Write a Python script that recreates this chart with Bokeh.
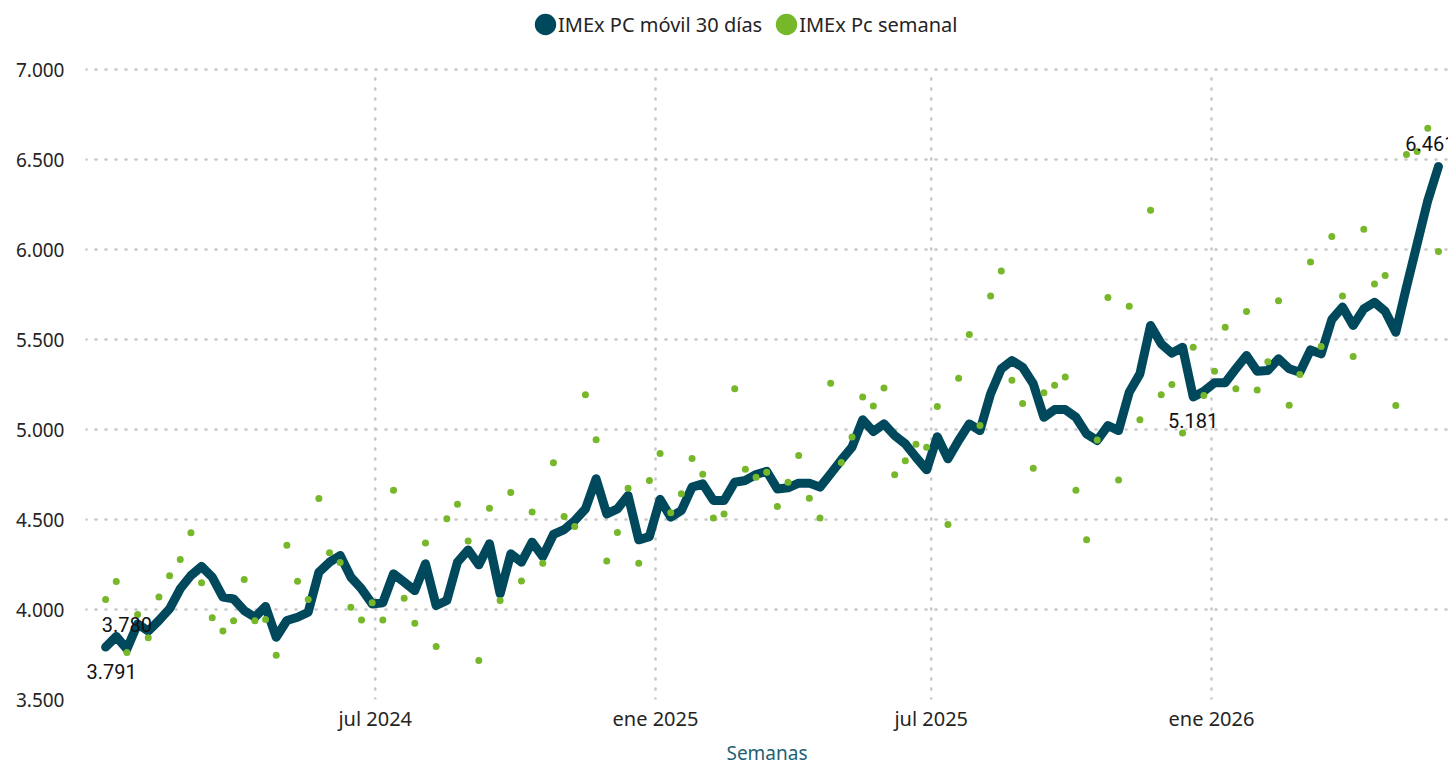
import pandas as pd
from bokeh.plotting import figure
from bokeh.models import ColumnDataSource, Range1d, FixedTicker, Legend, LegendItem
from bokeh.core.properties import value
from bokeh.embed import file_html
from bokeh.resources import INLINE

# ---------------- data ----------------
first_week = "2024-01-06"
n_weeks = 126

movil_30 = [
    3791, 3850, 3780, 3920, 3880, 3939, 4004, 4115, 4189, 4239,
    4180, 4069, 4059, 3994, 3957, 4017, 3846, 3939, 3957, 3985,
    4207, 4263, 4300, 4180, 4115, 4031, 4038, 4198, 4152, 4105,
    4254, 4022, 4050, 4263, 4331, 4248, 4365, 4087, 4309, 4263,
    4374, 4294, 4417, 4444, 4494, 4559, 4726, 4531, 4559, 4633,
    4387, 4405, 4612, 4513, 4550, 4680, 4698, 4606, 4606, 4707,
    4717, 4750, 4768, 4670, 4676, 4702, 4702, 4680, 4754, 4831,
    4902, 5054, 4989, 5031, 4967, 4920, 4846, 4776, 4960, 4837,
    4939, 5031, 4994, 5198, 5337, 5383, 5346, 5254, 5068, 5111,
    5111, 5068, 4976, 4939, 5022, 4994, 5207, 5309, 5578, 5476,
    5424, 5457, 5181, 5212, 5260, 5260, 5337, 5411, 5324, 5328,
    5393, 5337, 5318, 5442, 5420, 5611, 5680, 5578, 5670, 5707,
    5657, 5541, 5791, 6031, 6272, 6461,
]

semanal = [
    4055, 4155, 3761, 3972, 3843, 4070, 4187, 4278, 4426, 4148,
    3954, 3881, 3937, 4167, 3937, 3944, 3746, 4357, 4157, 4055,
    4617, 4315, 4261, 4013, 3941, 4037, 3942, 4663, 4063, 3924,
    4370, 3794, 4504, 4585, 4381, 3717, 4563, 4050, 4650, 4159,
    4542, 4257, 4815, 4517, 4461, 5193, 4943, 4270, 4428, 4674,
    4257, 4717, 4867, 4537, 4643, 4839, 4752, 4509, 4531, 5226,
    4779, 4735, 4763, 4572, 4707, 4855, 4618, 4509, 5257, 4817,
    4959, 5180, 5131, 5230, 4748, 4826, 4918, 4902, 5128, 4472,
    5285, 5528, 5022, 5741, 5880, 5274, 5144, 4785, 5204, 5246,
    5292, 4663, 4387, 4941, 5733, 4720, 5685, 5054, 6218, 5193,
    5250, 4980, 5457, 5189, 5324, 5568, 5226, 5655, 5220, 5376,
    5715, 5135, 5305, 5930, 5461, 6072, 5741, 5405, 6113, 5809,
    5855, 5133, 6528, 6544, 6674, 5989,
]

labelled_points = [0, 2, 102, 125]

y_ticks = [3500, 4000, 4500, 5000, 5500, 6000, 6500, 7000]
y_tick_labels = ["3.500", "4.000", "4.500", "5.000", "5.500", "6.000", "6.500", "7.000"]
x_tick_dates = ["2024-07-01", "2025-01-01", "2025-07-01", "2026-01-01"]
x_tick_labels = ["jul 2024", "ene 2025", "jul 2025", "ene 2026"]

series_names = ["IMEx PC móvil 30 días", "IMEx Pc semanal"]

# ---------------- styles / layout ----------------
DARK = "#00485B"
GREEN = "#76B82A"
GRID = "#C8C8C8"
TXT = "#252423"
FONT = "Noto Sans"
LABEL_FONT = "Roboto"
label_dx = [6, 0, 0, -8]
label_dy = [24, -25, 24, -23]

W, H = 1448, 768
FRAME_LEFT, FRAME_BOTTOM_PAD = 85, 69
PLOT_TOP_PX = 69          # pixel row of the top value (7000)
PX_PER_UNIT = 630 / 3500  # vertical scale

weeks = pd.date_range(first_week, periods=n_weeks, freq="7D")
src = ColumnDataSource(dict(x=weeks, movil=movil_30, semanal=semanal))


def fmt(v):
    return f"{v:,.0f}".replace(",", ".")


lab_src = ColumnDataSource(dict(
    x=[weeks[i] for i in labelled_points],
    y=[movil_30[i] for i in labelled_points],
    t=[fmt(movil_30[i]) for i in labelled_points],
    dx=label_dx,
    dy=label_dy,
))

ref = pd.Timestamp("2025-01-01")
x_start = ref - pd.Timedelta(days=374.2)
x_end = ref + pd.Timedelta(days=520.6)
# frame extends to the top of the figure so the legend can sit above the 7000 line
y_end = y_ticks[-1] + PLOT_TOP_PX / PX_PER_UNIT

p = figure(
    width=W, height=H,
    x_axis_type="datetime",
    x_range=Range1d(x_start, x_end),
    y_range=Range1d(y_ticks[0], y_end),
    output_backend="svg", toolbar_location=None,
    min_border_left=FRAME_LEFT, min_border_right=0, min_border_top=0,
    min_border_bottom=FRAME_BOTTOM_PAD,
)
p.outline_line_color = None
p.background_fill_color = "white"
p.border_fill_color = "white"

# vertical dotted grid lines limited to the value range
tick_ts = [pd.Timestamp(d) for d in x_tick_dates]
p.xgrid.visible = False
p.segment(x0=tick_ts, y0=[y_ticks[0]] * len(tick_ts), x1=tick_ts, y1=[y_ticks[-1]] * len(tick_ts),
          line_color=GRID, line_width=2.6, line_dash="1 9", line_cap="round")
p.ygrid.grid_line_color = GRID
p.ygrid.grid_line_width = 2.6
p.ygrid.grid_line_dash = "1 9"
p.ygrid.grid_line_cap = "round"

line_r = p.line("x", "movil", source=src, line_color=DARK, line_width=9,
                line_join="round", line_cap="round")
dots_r = p.scatter("x", "semanal", source=src, marker="circle", size=7,
                   fill_color=GREEN, line_color=None)

p.text("x", "y", text="t", source=lab_src, x_offset="dx", y_offset="dy",
       text_align="center", text_baseline="middle",
       text_font=value(LABEL_FONT), text_font_size="20px", text_color="#111111")

# axes
p.xaxis.ticker = FixedTicker(ticks=[t.value / 1e6 for t in tick_ts])
p.xaxis.major_label_overrides = {t.value / 1e6: l for t, l in zip(tick_ts, x_tick_labels)}
p.yaxis.ticker = FixedTicker(ticks=y_ticks)
p.yaxis.major_label_overrides = {t: l for t, l in zip(y_ticks, y_tick_labels)}

for ax in (p.xaxis, p.yaxis):
    ax.axis_line_color = None
    ax.major_tick_line_color = None
    ax.minor_tick_line_color = None
    ax.major_tick_out = 0
    ax.major_tick_in = 0
    ax.minor_tick_out = 0
    ax.major_label_text_font = FONT
    ax.major_label_text_color = TXT

p.yaxis.major_label_text_font_size = "19px"
p.xaxis.major_label_text_font_size = "20px"
p.yaxis.major_label_standoff = 21
p.xaxis.major_label_standoff = 5
p.xaxis.axis_label = "Semanas"
p.xaxis.axis_label_text_font = FONT
p.xaxis.axis_label_text_font_size = "19px"
p.xaxis.axis_label_text_font_style = "normal"
p.xaxis.axis_label_text_color = "#1F5F73"
p.xaxis.axis_label_standoff = 5

# legend with circle markers (off-range single points used only for the legend glyphs)
nan = float("nan")
leg_dark = p.scatter(x=[nan], y=[nan], marker="circle", fill_color=DARK, line_color=DARK, line_width=11)
leg_green = p.scatter(x=[nan], y=[nan], marker="circle", fill_color=GREEN, line_color=GREEN, line_width=11)
LEG_H = 48
LEG_W = 26
legend = Legend(
    items=[LegendItem(label=series_names[0], renderers=[leg_dark]),
           LegendItem(label=series_names[1], renderers=[leg_green])],
    orientation="horizontal",
    location=(447, H - FRAME_BOTTOM_PAD - LEG_H),
    glyph_width=LEG_W, glyph_height=LEG_H,
    label_standoff=0, spacing=11, padding=0, margin=0,
    label_text_font=FONT, label_text_font_size="20px", label_text_color=TXT,
    background_fill_alpha=0, border_line_alpha=0,
)
p.add_layout(legend, "center")

open("out.html", "w").write(file_html(p, INLINE))
